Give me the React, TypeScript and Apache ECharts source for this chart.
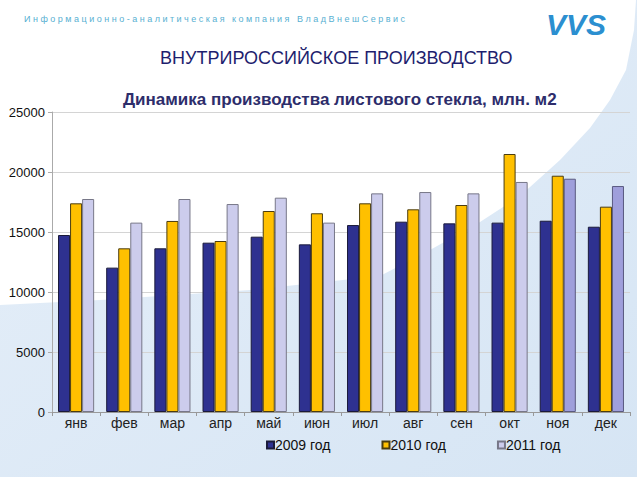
import React, { useEffect, useRef } from "react";
import * as echarts from "echarts";

const months = ["янв", "фев", "мар", "апр", "май", "июн", "июл", "авг", "сен", "окт", "ноя", "дек"];
const seriesNames = ["2009 год", "2010 год", "2011 год"];
const y2009 = [14750, 12030, 13640, 14110, 14610, 13970, 15580, 15860, 15720, 15780, 15940, 15440];
const y2010 = [17390, 13640, 15920, 14250, 16750, 16560, 17390, 16890, 17250, 21500, 19690, 17110];
const y2011 = [17750, 15780, 17750, 17330, 17860, 15780, 18220, 18330, 18220, 19170, 19440, 18830];
const estimated2011 = [false, false, false, false, false, false, false, false, false, false, true, true];
const yTicks = { min: 0, max: 25000, interval: 5000 };

const headerText = "Информационно-аналитическая компания ВладВнешСервис";
const pageTitle = "ВНУТРИРОССИЙСКОЕ ПРОИЗВОДСТВО";
const chartTitle = "Динамика производства листового стекла, млн. м2";

const FONT = "'Liberation Sans', Arial, sans-serif";

export default function App() {
  const ref = useRef<HTMLDivElement>(null);
  useEffect(() => {
    if (!ref.current) return;
    const chart = echarts.init(ref.current, undefined, { renderer: "svg" });
    const spaced = Array.from(headerText).join(" ");
    const option: any = {
      animation: false,
      backgroundColor: "#ffffff",
      textStyle: { fontFamily: FONT },
      graphic: [
        {
          type: "polygon",
          z: -10,
          silent: true,
          shape: {
            points: [
              [0, 305], [100, 300], [250, 290], [380, 276], [430, 250], [480, 222],
              [520, 196], [560, 160], [590, 128], [610, 100], [626, 70], [634, 30], [636, 0],
              [637, 0], [637, 477], [0, 477],
            ],
          },
          style: {
            fill: new echarts.graphic.LinearGradient(0, 0, 1, 1, [
              { offset: 0, color: "#e6eff9" },
              { offset: 1, color: "#d6e5f4" },
            ]),
          },
        },
        {
          type: "text",
          left: 24,
          top: 14,
          style: {
            text: spaced,
            fontSize: 9,
            fontFamily: FONT,
            fill: "#58b0d2",
          },
        },
        {
          type: "text",
          left: 546,
          top: 9,
          style: {
            text: "VVS",
            fontSize: 30,
            fontWeight: 900,
            fontStyle: "italic",
            fontFamily: FONT,
            fill: "#2b8fd0",
          },
        },
        {
          type: "text",
          left: 160,
          top: 49,
          style: {
            text: pageTitle,
            fontSize: 18,
            fontFamily: FONT,
            fill: "#1e1e6e",
          },
        },
        {
          type: "text",
          left: 123,
          top: 91,
          style: {
            text: chartTitle,
            fontSize: 17,
            fontWeight: "bold",
            fontFamily: FONT,
            fill: "#2d2d6b",
          },
        },
      ],
      grid: { left: 52, right: 10, top: 112, bottom: 68, containLabel: false },
      legend: {
        data: seriesNames,
        left: 261,
        top: 433,
        itemWidth: 7,
        itemHeight: 7,
        itemGap: 51,
        icon: "rect",
        textStyle: { fontSize: 14, color: "#111", fontFamily: FONT, padding: [0, 0, 0, -4] },
      },
      xAxis: {
        type: "category",
        data: months,
        axisLine: { show: true, lineStyle: { color: "#999" } },
        axisTick: { show: true, length: 4, lineStyle: { color: "#999" } },
        axisLabel: { fontSize: 14, color: "#222", margin: 4, fontFamily: FONT },
      },
      yAxis: {
        type: "value",
        min: yTicks.min,
        max: yTicks.max,
        interval: yTicks.interval,
        axisLine: { show: true, lineStyle: { color: "#aaa" } },
        axisTick: { show: true, length: 4, lineStyle: { color: "#aaa" } },
        splitLine: { show: true, lineStyle: { color: "#d4d4d4" } },
        axisLabel: {
          fontSize: 13,
          color: "#111",
          margin: 7,
          fontFamily: FONT,
          formatter: (v: number) => String(v),
        },
      },
      series: [
        {
          name: seriesNames[0],
          type: "bar",
          data: y2009,
          barGap: "0%",
          barCategoryGap: "25%",
          itemStyle: { color: "#2e3190", borderColor: "#1a1a3a", borderWidth: 1 },
        },
        {
          name: seriesNames[1],
          type: "bar",
          data: y2010,
          barGap: "0%",
          barCategoryGap: "25%",
          itemStyle: { color: "#ffc000", borderColor: "#4a3c10", borderWidth: 1 },
        },
        {
          name: seriesNames[2],
          type: "bar",
          data: y2011.map((v, i) =>
            estimated2011[i]
              ? { value: v, itemStyle: { color: "#9f9fdb", borderColor: "#5a5a80" } }
              : v
          ),
          barGap: "0%",
          barCategoryGap: "25%",
          itemStyle: { color: "#ccccec", borderColor: "#777788", borderWidth: 1 },
        },
      ],
    };
    chart.setOption(option);
    return () => chart.dispose();
  }, []);
  return <div ref={ref} style={{ width: 640, height: 480, position: "absolute", left: 0, top: 0 }} />;
}
